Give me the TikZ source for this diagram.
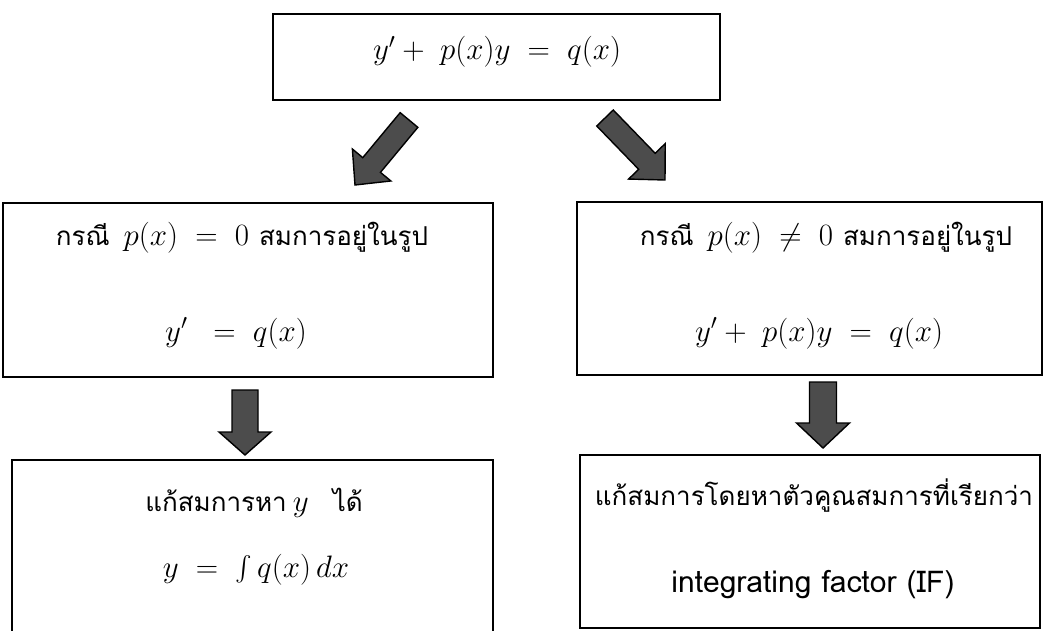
\RequirePackage{fix-cm}
\documentclass[tikz,border=0pt]{standalone}
\usepackage{exscale}
\usepackage{fontspec}
\newfontfamily\thai[Script=Thai]{Loma}
\usetikzlibrary{calc}
\newcommand{\thtxt}[1]{{\thai\fontsize{26}{32}\selectfont #1}}
\newcommand{\blockarrow}[5]{%
  \coordinate (#1b) at ($(#2)!#5!(#1)$);
  \draw[barrow] ($(#1)!#3!90:(#2)$) -- ($(#1b)!#3!-90:(#1)$) -- ($(#1b)!#4!-90:(#1)$) -- (#2)
     -- ($(#1b)!#4!90:(#1)$) -- ($(#1b)!#3!90:(#1)$) -- ($(#1)!#3!-90:(#2)$) -- cycle;}
\begin{document}
\begin{tikzpicture}[x=1pt,y=-1pt,
  box/.style={draw=black, line width=2.4pt, inner sep=0pt, outer sep=0pt},
  mtext/.style={anchor=base, inner sep=0pt, font=\fontsize{31}{37}\selectfont},
  barrow/.style={fill=black!70, draw=black, line width=1.4pt, line join=miter}]
\useasboundingbox (0,0) rectangle (1052,631);
\clip (0,0) rectangle (1052,631);
% boxes
\node[box, minimum width=447pt, minimum height=86pt] (top) at (496.5,57) {};
\node[box, minimum width=490pt, minimum height=174pt] (lm) at (248,290) {};
\node[box, minimum width=465pt, minimum height=173pt] (rm) at (809.5,288.5) {};
\node[box, minimum width=481pt, minimum height=200pt] (lb) at (252.5,560) {};
\node[box, minimum width=460pt, minimum height=173pt] (rb) at (810,541.5) {};
% texts
\node[mtext] (t0) at (497,60) {$y' +\; p(x)y \;=\; q(x)$};
\node[mtext] (l1) at (242,245) {\thtxt{กรณี}\hspace{14pt}$p(x) \;=\; 0$\hspace{10pt}\thtxt{สมการอยู่ในรูป}};
\node[mtext] (l2) at (236,341) {$y' \;\;=\; q(x)$};
\node[mtext] (r1) at (826,245) {\thtxt{กรณี}\hspace{14pt}$p(x) \;\neq\; 0$\hspace{10pt}\thtxt{สมการอยู่ในรูป}};
\node[mtext] (r2) at (819,341) {$y' +\; p(x)y \;=\; q(x)$};
\node[mtext] (b1) at (254,511) {\thtxt{แก้สมการหา}\hspace{6pt}$y$\hspace{24pt}\thtxt{ได้}};
\node[mtext] (b2) at (256,577) {$y \;=\; \int q(x)\,dx$};
\node[mtext] (c1) at (814,505) {\thtxt{แก้สมการโดยหาตัวคูณสมการที่เรียกว่า}};
\node[mtext] (c2) at (813,592) {{\thai\fontsize{30}{36}\selectfont integrating factor (IF)}};
% arrows
\coordinate (a1s) at (409,120); \coordinate (a1t) at (355,185);
\coordinate (a2s) at (605,118); \coordinate (a2t) at (665,180);
\coordinate (a3s) at (245,390); \coordinate (a3t) at (245,455);
\coordinate (a4s) at (823,382); \coordinate (a4t) at (823,448);
\blockarrow{a1s}{a1t}{11.5pt}{25pt}{26pt}
\blockarrow{a2s}{a2t}{11.5pt}{25.5pt}{26pt}
\blockarrow{a3s}{a3t}{13pt}{26pt}{23pt}
\blockarrow{a4s}{a4t}{13.5pt}{26.5pt}{25pt}
\end{tikzpicture}
\end{document}
